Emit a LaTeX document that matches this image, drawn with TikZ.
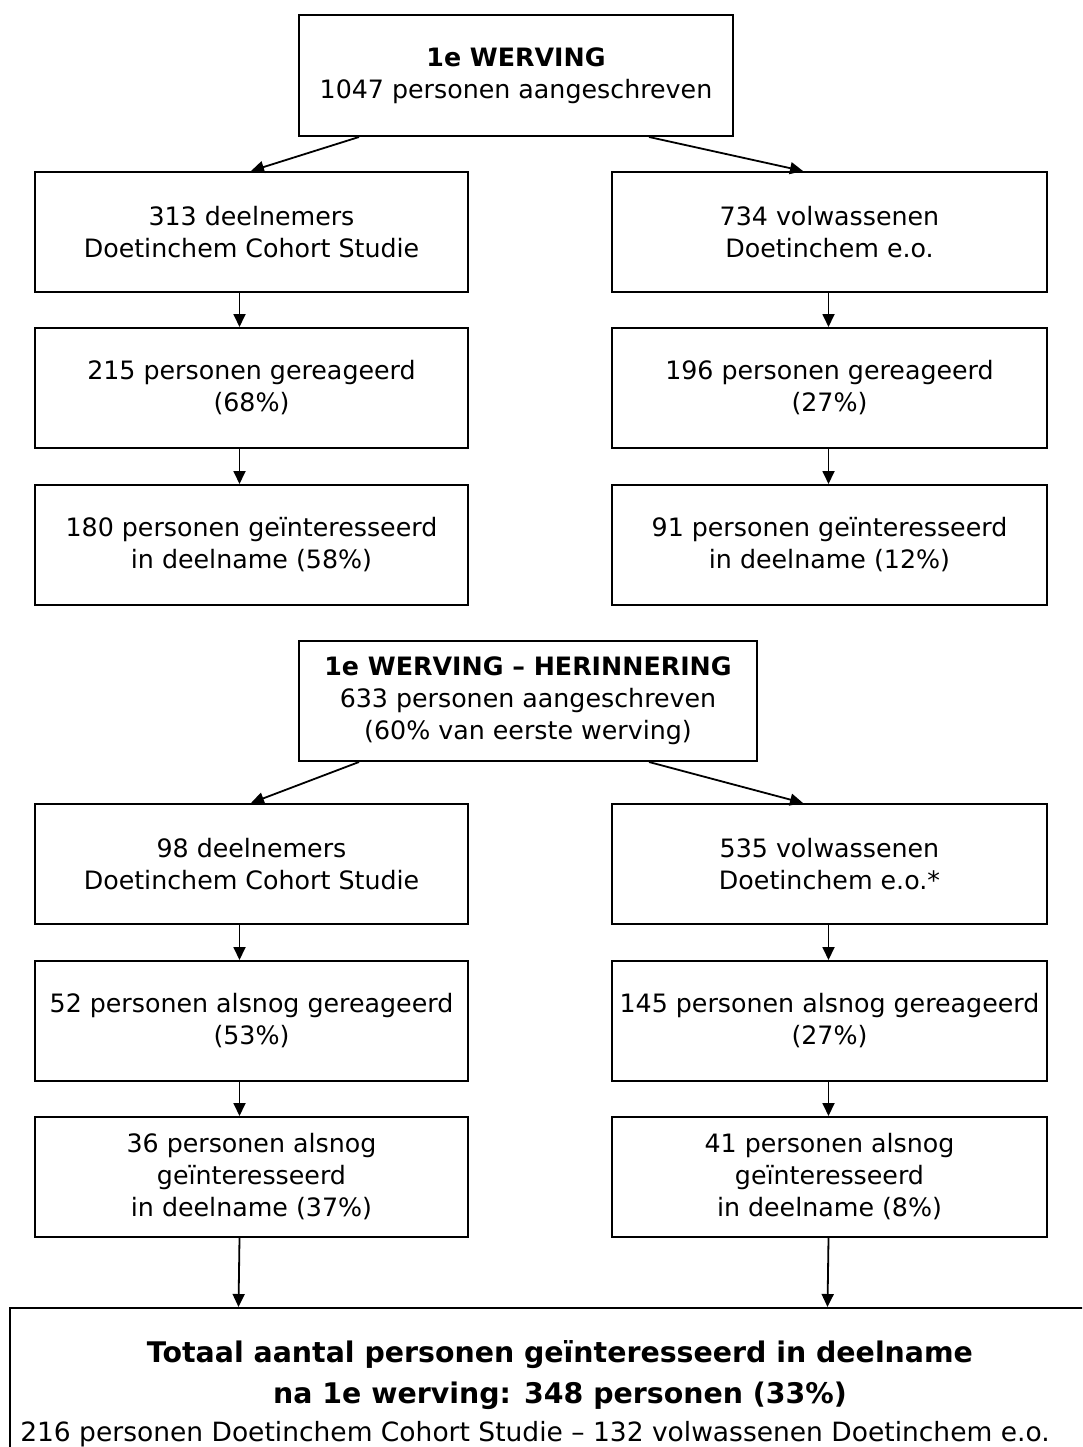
\documentclass[tikz,border=0pt]{standalone}
\usepackage{fontspec}
\setmainfont{DejaVu Sans}
\usetikzlibrary{arrows.meta,calc}
\begin{document}
\begin{tikzpicture}[x=1pt,y=-1pt,
  box/.style={draw, line width=2pt, align=center, inner sep=0pt,
    font=\fontsize{25.3}{32}\selectfont},
  lbox/.style={box, minimum width=433pt, minimum height=120pt},
  rbox/.style={box, minimum width=435pt, minimum height=120pt},
  conn/.style={line width=1.8pt, -{Triangle[length=13pt,width=12pt]}}]
\useasboundingbox (0,0) rectangle (1082,1447);
\fill[white] (0,0) rectangle (1082,1447);
% first recruitment
\node[box, minimum width=434pt, minimum height=121pt] (t1) at (516,75.5)
  {\textbf{1e WERVING}\\1047 personen aangeschreven};
\node[lbox] (l1) at (251.5,232) {313 deelnemers\\Doetinchem Cohort Studie};
\node[rbox] (r1) at (829.5,232) {734 volwassenen\\Doetinchem e.o.};
\node[lbox] (l2) at (251.5,388) {215 personen gereageerd\\(68\%)};
\node[rbox] (r2) at (829.5,388) {196 personen gereageerd\\(27\%)};
\node[lbox] (l3) at (251.5,545) {180 personen geïnteresseerd\\in deelname (58\%)};
\node[rbox] (r3) at (829.5,545) {91 personen geïnteresseerd\\in deelname (12\%)};
% reminder
\node[box, minimum width=458pt, minimum height=120pt] (t2) at (528,701)
  {\textbf{1e WERVING – HERINNERING}\\633 personen aangeschreven\\(60\% van eerste werving)};
\node[lbox] (l4) at (251.5,864) {98 deelnemers\\Doetinchem Cohort Studie};
\node[rbox] (r4) at (829.5,864) {535 volwassenen\\Doetinchem e.o.*};
\node[lbox] (l5) at (251.5,1021) {52 personen alsnog gereageerd\\(53\%)};
\node[rbox] (r5) at (829.5,1021) {145 personen alsnog gereageerd\\(27\%)};
\node[lbox] (l6) at (251.5,1177) {36 personen alsnog\\geïnteresseerd\\in deelname (37\%)};
\node[rbox] (r6) at (829.5,1177) {41 personen alsnog\\geïnteresseerd\\in deelname (8\%)};
% total
\begin{scope}
\clip (0,0) rectangle (1082,1447);
\node[box, minimum width=1100pt, minimum height=172pt] (tot) at (560,1394)
  {\fontsize{28.4}{40}\selectfont\bfseries Totaal aantal personen geïnteresseerd in deelname\\[9pt]
   \fontsize{28.4}{40}\selectfont\bfseries na 1e werving: 348 personen (33\%)\\[6pt]
   \fontsize{26.5}{31}\selectfont 216 personen Doetinchem Cohort Studie – 132 volwassenen Doetinchem e.o.\rule{50pt}{0pt}};
\end{scope}
% connectors
\draw[conn] ($(t1.south west)+(61,0)$) -- ($(l1.north west)+(217,0)$);
\draw[conn] ($(t1.south west)+(351,0)$) -- ($(r1.north west)+(192,0)$);
\draw[conn] ($(t2.south west)+(61,0)$) -- ($(l4.north west)+(217,0)$);
\draw[conn] ($(t2.south west)+(351,0)$) -- ($(r4.north west)+(192,0)$);
\foreach \a/\b in {l1/l2,l2/l3,l4/l5,l5/l6}{
  \draw[conn] ($(\a.south)+(-12,0)$) -- ($(\b.north)+(-12,0)$);}
\foreach \a/\b in {r1/r2,r2/r3,r4/r5,r5/r6}{
  \draw[conn] ($(\a.south)+(-1,0)$) -- ($(\b.north)+(-1,0)$);}
\draw[conn] ($(l6.south)+(-12,0)$) -- ($(tot.north west)+(229.5,0)$);
\draw[conn] ($(r6.south)+(-1,0)$) -- ($(tot.north west)+(818.5,0)$);
\end{tikzpicture}
\end{document}
